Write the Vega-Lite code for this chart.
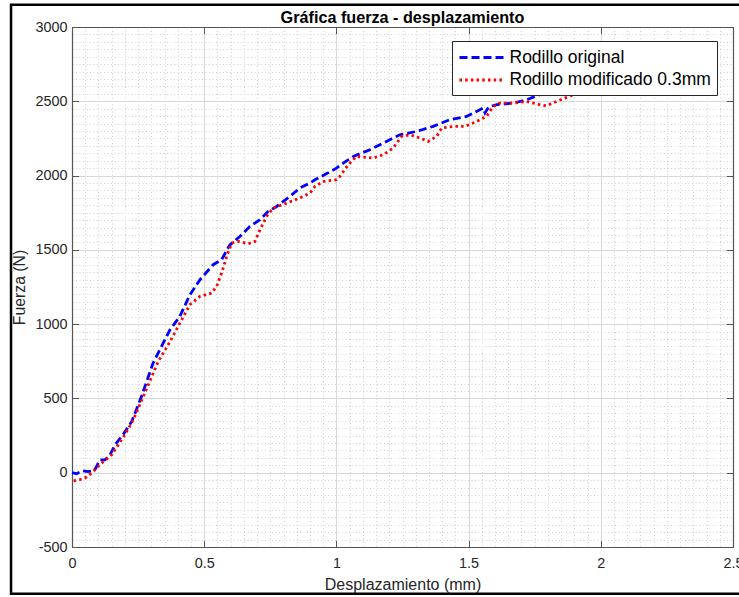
{
  "$schema": "https://vega.github.io/schema/vega-lite/v6.json",
  "width": 661,
  "height": 520,
  "autosize": "none",
  "padding": {"left": 72, "top": 27, "right": 6, "bottom": 50},
  "background": "white",
  "config": {"view": {"stroke": null}, "font": "Liberation Sans"},
  "title": {"text": "Gráfica fuerza - desplazamiento", "fontSize": 16.2, "fontWeight": "bold", "color": "#000000", "offset": -35.5, "baseline": "alphabetic", "anchor": "middle", "frame": "group", "font": "Liberation Sans"},
  "data": {"values": [
    {"serie": "Rodillo original", "d": 0, "f": 0},
    {"serie": "Rodillo original", "d": 0.018, "f": -7},
    {"serie": "Rodillo original", "d": 0.037, "f": 13},
    {"serie": "Rodillo original", "d": 0.06, "f": 7},
    {"serie": "Rodillo original", "d": 0.085, "f": 15},
    {"serie": "Rodillo original", "d": 0.106, "f": 87},
    {"serie": "Rodillo original", "d": 0.125, "f": 87},
    {"serie": "Rodillo original", "d": 0.144, "f": 121},
    {"serie": "Rodillo original", "d": 0.163, "f": 188},
    {"serie": "Rodillo original", "d": 0.193, "f": 256},
    {"serie": "Rodillo original", "d": 0.226, "f": 345},
    {"serie": "Rodillo original", "d": 0.263, "f": 514},
    {"serie": "Rodillo original", "d": 0.307, "f": 740},
    {"serie": "Rodillo original", "d": 0.333, "f": 830},
    {"serie": "Rodillo original", "d": 0.37, "f": 960},
    {"serie": "Rodillo original", "d": 0.408, "f": 1052},
    {"serie": "Rodillo original", "d": 0.446, "f": 1198},
    {"serie": "Rodillo original", "d": 0.484, "f": 1299},
    {"serie": "Rodillo original", "d": 0.534, "f": 1400},
    {"serie": "Rodillo original", "d": 0.566, "f": 1434},
    {"serie": "Rodillo original", "d": 0.597, "f": 1534},
    {"serie": "Rodillo original", "d": 0.635, "f": 1590},
    {"serie": "Rodillo original", "d": 0.673, "f": 1658},
    {"serie": "Rodillo original", "d": 0.711, "f": 1703},
    {"serie": "Rodillo original", "d": 0.742, "f": 1759},
    {"serie": "Rodillo original", "d": 0.774, "f": 1792},
    {"serie": "Rodillo original", "d": 0.824, "f": 1860},
    {"serie": "Rodillo original", "d": 0.862, "f": 1916},
    {"serie": "Rodillo original", "d": 0.9, "f": 1950},
    {"serie": "Rodillo original", "d": 0.919, "f": 1972},
    {"serie": "Rodillo original", "d": 0.96, "f": 2010},
    {"serie": "Rodillo original", "d": 1.0, "f": 2050},
    {"serie": "Rodillo original", "d": 1.026, "f": 2084},
    {"serie": "Rodillo original", "d": 1.064, "f": 2129},
    {"serie": "Rodillo original", "d": 1.127, "f": 2174},
    {"serie": "Rodillo original", "d": 1.177, "f": 2219},
    {"serie": "Rodillo original", "d": 1.24, "f": 2275},
    {"serie": "Rodillo original", "d": 1.303, "f": 2297},
    {"serie": "Rodillo original", "d": 1.366, "f": 2331},
    {"serie": "Rodillo original", "d": 1.429, "f": 2376},
    {"serie": "Rodillo original", "d": 1.492, "f": 2398},
    {"serie": "Rodillo original", "d": 1.53, "f": 2432},
    {"serie": "Rodillo original", "d": 1.555, "f": 2454},
    {"serie": "Rodillo original", "d": 1.562, "f": 2422},
    {"serie": "Rodillo original", "d": 1.576, "f": 2462},
    {"serie": "Rodillo original", "d": 1.606, "f": 2477},
    {"serie": "Rodillo original", "d": 1.669, "f": 2488},
    {"serie": "Rodillo original", "d": 1.719, "f": 2510},
    {"serie": "Rodillo original", "d": 1.769, "f": 2544},
    {"serie": "Rodillo original", "d": 1.8, "f": 2566},
    {"serie": "Rodillo original", "d": 1.85, "f": 2600},
    {"serie": "Rodillo original", "d": 1.9, "f": 2630},
    {"serie": "Rodillo modificado 0.3mm", "d": 0.006, "f": -55},
    {"serie": "Rodillo modificado 0.3mm", "d": 0.03, "f": -47},
    {"serie": "Rodillo modificado 0.3mm", "d": 0.056, "f": -29},
    {"serie": "Rodillo modificado 0.3mm", "d": 0.074, "f": -2},
    {"serie": "Rodillo modificado 0.3mm", "d": 0.093, "f": 31},
    {"serie": "Rodillo modificado 0.3mm", "d": 0.112, "f": 65},
    {"serie": "Rodillo modificado 0.3mm", "d": 0.131, "f": 92},
    {"serie": "Rodillo modificado 0.3mm", "d": 0.15, "f": 121},
    {"serie": "Rodillo modificado 0.3mm", "d": 0.175, "f": 188},
    {"serie": "Rodillo modificado 0.3mm", "d": 0.2, "f": 256},
    {"serie": "Rodillo modificado 0.3mm", "d": 0.232, "f": 357},
    {"serie": "Rodillo modificado 0.3mm", "d": 0.27, "f": 514},
    {"serie": "Rodillo modificado 0.3mm", "d": 0.326, "f": 749},
    {"serie": "Rodillo modificado 0.3mm", "d": 0.37, "f": 880},
    {"serie": "Rodillo modificado 0.3mm", "d": 0.408, "f": 1007},
    {"serie": "Rodillo modificado 0.3mm", "d": 0.446, "f": 1131},
    {"serie": "Rodillo modificado 0.3mm", "d": 0.484, "f": 1187},
    {"serie": "Rodillo modificado 0.3mm", "d": 0.528, "f": 1209},
    {"serie": "Rodillo modificado 0.3mm", "d": 0.547, "f": 1254},
    {"serie": "Rodillo modificado 0.3mm", "d": 0.566, "f": 1344},
    {"serie": "Rodillo modificado 0.3mm", "d": 0.585, "f": 1456},
    {"serie": "Rodillo modificado 0.3mm", "d": 0.604, "f": 1546},
    {"serie": "Rodillo modificado 0.3mm", "d": 0.629, "f": 1557},
    {"serie": "Rodillo modificado 0.3mm", "d": 0.667, "f": 1541},
    {"serie": "Rodillo modificado 0.3mm", "d": 0.692, "f": 1557},
    {"serie": "Rodillo modificado 0.3mm", "d": 0.711, "f": 1635},
    {"serie": "Rodillo modificado 0.3mm", "d": 0.736, "f": 1725},
    {"serie": "Rodillo modificado 0.3mm", "d": 0.761, "f": 1781},
    {"serie": "Rodillo modificado 0.3mm", "d": 0.812, "f": 1815},
    {"serie": "Rodillo modificado 0.3mm", "d": 0.862, "f": 1849},
    {"serie": "Rodillo modificado 0.3mm", "d": 0.9, "f": 1882},
    {"serie": "Rodillo modificado 0.3mm", "d": 0.919, "f": 1927},
    {"serie": "Rodillo modificado 0.3mm", "d": 0.95, "f": 1960},
    {"serie": "Rodillo modificado 0.3mm", "d": 1.0, "f": 1972},
    {"serie": "Rodillo modificado 0.3mm", "d": 1.013, "f": 1994},
    {"serie": "Rodillo modificado 0.3mm", "d": 1.045, "f": 2073},
    {"serie": "Rodillo modificado 0.3mm", "d": 1.076, "f": 2129},
    {"serie": "Rodillo modificado 0.3mm", "d": 1.139, "f": 2118},
    {"serie": "Rodillo modificado 0.3mm", "d": 1.177, "f": 2140},
    {"serie": "Rodillo modificado 0.3mm", "d": 1.215, "f": 2185},
    {"serie": "Rodillo modificado 0.3mm", "d": 1.246, "f": 2263},
    {"serie": "Rodillo modificado 0.3mm", "d": 1.278, "f": 2275},
    {"serie": "Rodillo modificado 0.3mm", "d": 1.316, "f": 2253},
    {"serie": "Rodillo modificado 0.3mm", "d": 1.347, "f": 2230},
    {"serie": "Rodillo modificado 0.3mm", "d": 1.379, "f": 2263},
    {"serie": "Rodillo modificado 0.3mm", "d": 1.398, "f": 2320},
    {"serie": "Rodillo modificado 0.3mm", "d": 1.442, "f": 2331},
    {"serie": "Rodillo modificado 0.3mm", "d": 1.486, "f": 2331},
    {"serie": "Rodillo modificado 0.3mm", "d": 1.53, "f": 2364},
    {"serie": "Rodillo modificado 0.3mm", "d": 1.568, "f": 2398},
    {"serie": "Rodillo modificado 0.3mm", "d": 1.593, "f": 2465},
    {"serie": "Rodillo modificado 0.3mm", "d": 1.618, "f": 2488},
    {"serie": "Rodillo modificado 0.3mm", "d": 1.669, "f": 2488},
    {"serie": "Rodillo modificado 0.3mm", "d": 1.719, "f": 2499},
    {"serie": "Rodillo modificado 0.3mm", "d": 1.769, "f": 2477},
    {"serie": "Rodillo modificado 0.3mm", "d": 1.795, "f": 2470},
    {"serie": "Rodillo modificado 0.3mm", "d": 1.832, "f": 2499},
    {"serie": "Rodillo modificado 0.3mm", "d": 1.896, "f": 2544},
    {"serie": "Rodillo modificado 0.3mm", "d": 1.94, "f": 2565},
    {"serie": "Rodillo modificado 0.3mm", "d": 2.0, "f": 2600}
  ]},
  "layer": [
    {
      "mark": {"type": "line", "strokeWidth": 2.8},
      "encoding": {
        "x": {
          "field": "d", "type": "quantitative",
          "scale": {"domain": [0, 2.5], "nice": false, "zero": false},
          "axis": {
            "orient": "bottom",
            "values": [0,0.05,0.1,0.15,0.2,0.25,0.3,0.35,0.4,0.45,0.5,0.55,0.6,0.65,0.7,0.75,0.8,0.85,0.9,0.95,1,1.05,1.1,1.15,1.2,1.25,1.3,1.35,1.4,1.45,1.5,1.55,1.6,1.65,1.7,1.75,1.8,1.85,1.9,1.95,2,2.05,2.1,2.15,2.2,2.25,2.3,2.35,2.4,2.45,2.5],
            "labelExpr": "abs(datum.value*2 - round(datum.value*2)) < 0.001 ? toString(round(datum.value*10)/10) : ''",
            "labelFontSize": 14.4, "labelColor": "#262626", "labelFont": "Liberation Sans",
            "labelPadding": 15.6, "labelFlush": false, "labelOverlap": false,
            "tickSize": -6.6, "tickColor": "#555555", "tickWidth": 1,
            "tickOpacity": {"condition": {"test": "abs(datum.value*2 - round(datum.value*2)) < 0.001", "value": 1}, "value": 0},
            "grid": true, "gridWidth": 1,
            "gridColor": {"condition": {"test": "abs(datum.value*2 - round(datum.value*2)) < 0.001", "value": "#d8d8d8"}, "value": "#d0d0d0"},
            "gridDash": {"condition": {"test": "abs(datum.value*2 - round(datum.value*2)) < 0.001", "value": []}, "value": [1, 2.5]},
            "domainColor": "#555555", "domainWidth": 1.2,
            "title": "Desplazamiento (mm)", "titleFontSize": 16, "titleFontWeight": "normal", "titleColor": "#262626", "titleFont": "Liberation Sans", "titlePadding": 7
          }
        },
        "y": {
          "field": "f", "type": "quantitative",
          "scale": {"domain": [-500, 3000], "nice": false, "zero": false},
          "axis": {
            "orient": "left",
            "values": [-500,-450,-400,-350,-300,-250,-200,-150,-100,-50,0,50,100,150,200,250,300,350,400,450,500,550,600,650,700,750,800,850,900,950,1000,1050,1100,1150,1200,1250,1300,1350,1400,1450,1500,1550,1600,1650,1700,1750,1800,1850,1900,1950,2000,2050,2100,2150,2200,2250,2300,2350,2400,2450,2500,2550,2600,2650,2700,2750,2800,2850,2900,2950,3000],
            "labelExpr": "datum.value % 500 == 0 ? toString(datum.value) : ''",
            "labelFontSize": 14.4, "labelColor": "#262626", "labelFont": "Liberation Sans",
            "labelPadding": 11.6, "labelOverlap": false, "labelFlush": false,
            "tickSize": -6.6, "tickColor": "#555555", "tickWidth": 1,
            "tickOpacity": {"condition": {"test": "datum.value % 500 == 0", "value": 1}, "value": 0},
            "grid": true, "gridWidth": 1,
            "gridColor": {"condition": {"test": "datum.value % 500 == 0", "value": "#d8d8d8"}, "value": "#d0d0d0"},
            "gridDash": {"condition": {"test": "datum.value % 500 == 0", "value": []}, "value": [1, 2.5]},
            "domainColor": "#555555", "domainWidth": 1.2,
            "title": "Fuerza (N)", "titleFontSize": 15.8, "titleFontWeight": "normal", "titleColor": "#262626", "titleFont": "Liberation Sans", "titlePadding": 7.5
          }
        },
        "color": {
          "field": "serie", "type": "nominal",
          "scale": {"domain": ["Rodillo original", "Rodillo modificado 0.3mm"], "range": ["#0000ff", "#ff0000"]},
          "legend": {"orient": "none", "legendX": 380, "legendY": 14, "title": null, "direction": "vertical", "strokeColor": "#262626", "fillColor": "white", "padding": 6, "labelFontSize": 17.5, "labelColor": "#000000", "labelFont": "Liberation Sans", "labelLimit": 400, "symbolType": "M-2.5,0H2.5", "symbolSize": 324, "symbolOffset": 13.5, "symbolStrokeWidth": 2.8, "labelOffset": 17, "rowPadding": 3.5}
        },
        "strokeDash": {
          "field": "serie", "type": "nominal",
          "scale": {"domain": ["Rodillo original", "Rodillo modificado 0.3mm"], "range": [[8, 4], [2.5, 3.2]]},
          "legend": {"orient": "none", "legendX": 380, "legendY": 14, "title": null, "direction": "vertical", "strokeColor": "#262626", "fillColor": "white", "padding": 6, "labelFontSize": 17.5, "labelColor": "#000000", "labelFont": "Liberation Sans", "labelLimit": 400, "symbolType": "M-2.5,0H2.5", "symbolSize": 324, "symbolOffset": 13.5, "symbolStrokeWidth": 2.8, "labelOffset": 17, "rowPadding": 3.5}
        }
      }
    },
    {
      "data": {"values": [{"frame": 1}]},
      "mark": {"type": "rect", "fillOpacity": 0, "stroke": "#000000", "strokeWidth": 2.5, "clip": false},
      "encoding": {
        "x": {
          "datum": -0.2306, "type": "quantitative",
          "scale": {"domain": [0, 2.5], "nice": false, "zero": false},
          "axis": {"orient": "top", "values": [0, 0.5, 1, 1.5, 2, 2.5], "labels": false, "grid": false, "tickSize": -6.6, "tickColor": "#555555", "domainColor": "#555555", "domainWidth": 1.2, "title": null}
        },
        "x2": {"datum": 2.56},
        "y": {
          "datum": 3150, "type": "quantitative",
          "scale": {"domain": [-500, 3000], "nice": false, "zero": false},
          "axis": {"orient": "right", "values": [-500, 0, 500, 1000, 1500, 2000, 2500, 3000], "labels": false, "grid": false, "tickSize": -6.6, "tickColor": "#555555", "domainColor": "#555555", "domainWidth": 1.2, "title": null}
        },
        "y2": {"datum": -815}
      }
    }
  ],
  "resolve": {"axis": {"x": "independent", "y": "independent"}}
}
